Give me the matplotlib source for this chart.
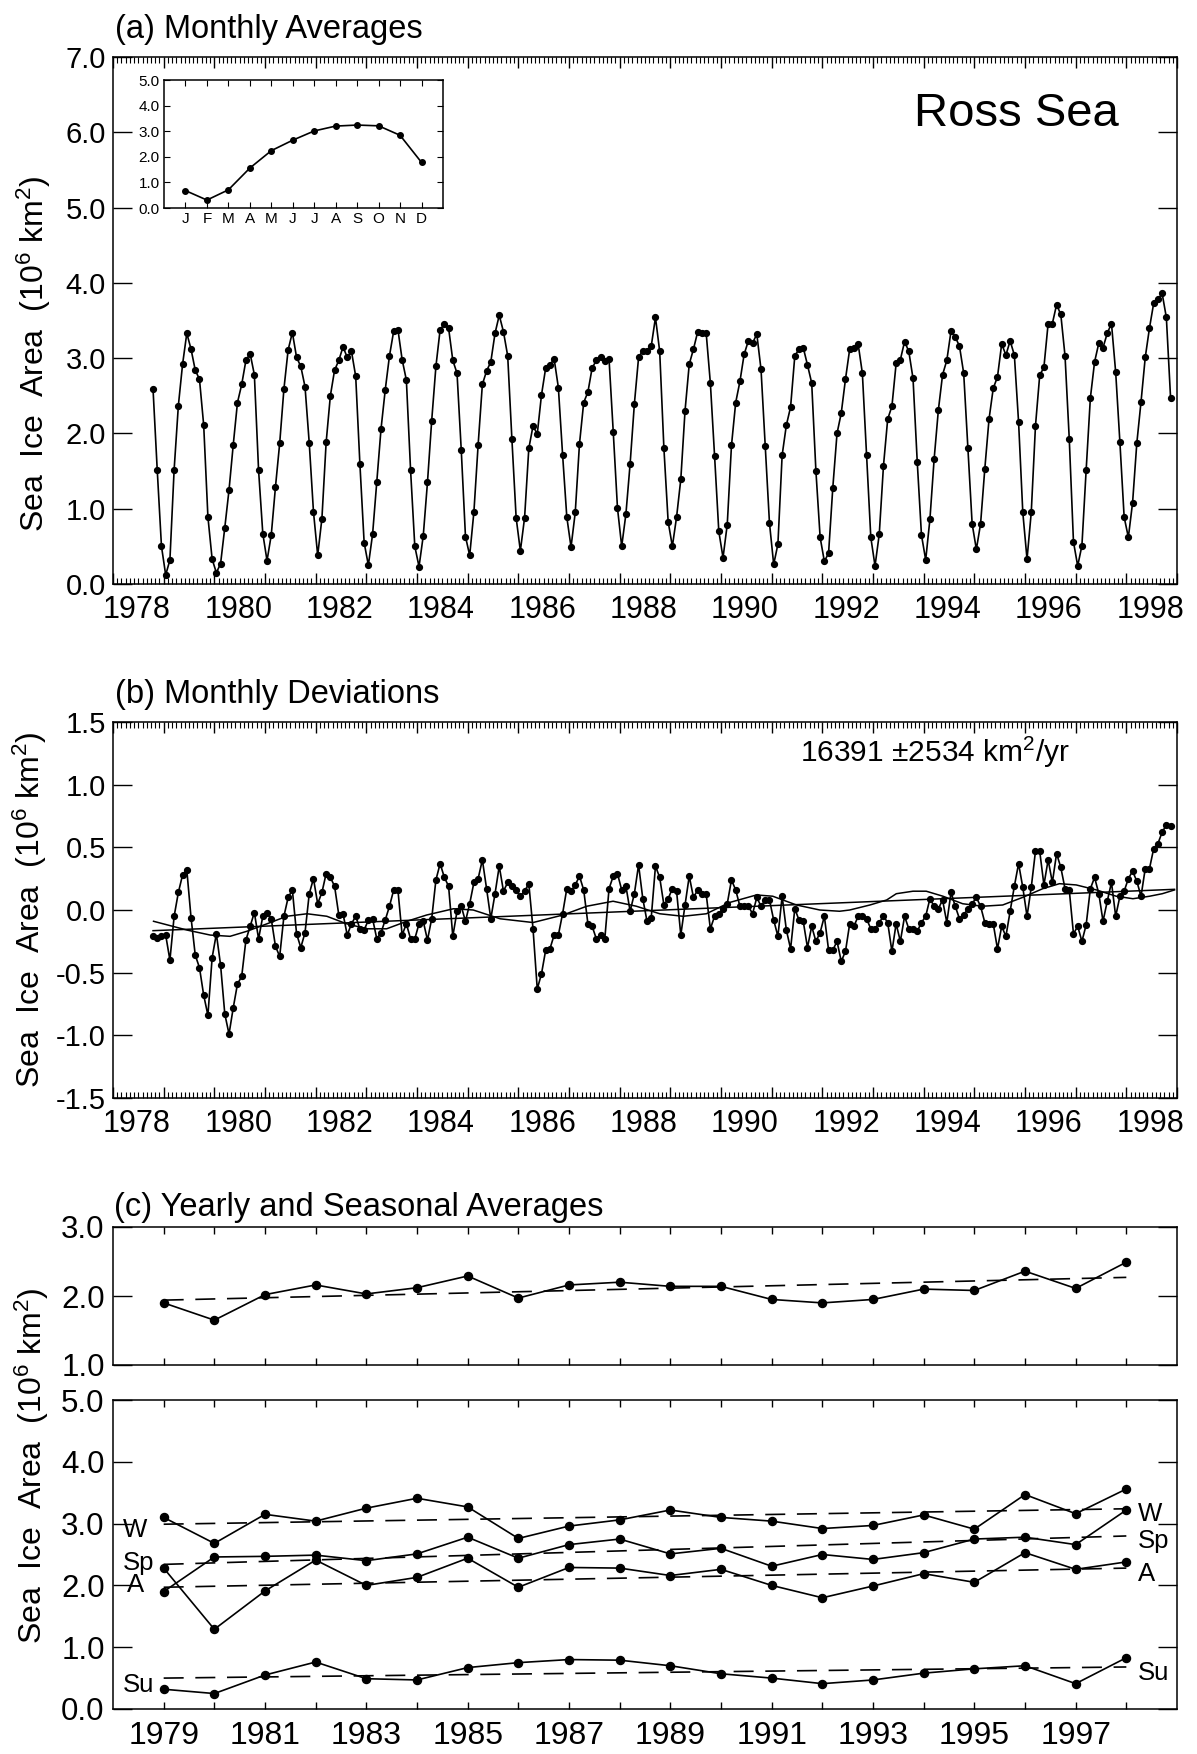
"""Ross Sea sea ice: monthly averages, deviations, yearly/seasonal averages."""

import numpy as np
import matplotlib
matplotlib.use("Agg")
import matplotlib.pyplot as plt
from matplotlib.ticker import MultipleLocator

plt.rcParams.update({
    "font.family": ["Liberation Sans", "DejaVu Sans"],
    "font.size": 21,
    "mathtext.fontset": "custom",
    "mathtext.rm": "Liberation Sans",
    "mathtext.it": "Liberation Sans:italic",
    "axes.linewidth": 1.1,
    "axes.unicode_minus": False,
    "xtick.direction": "in",
    "ytick.direction": "in",
})

# ---- (a) monthly averages, Nov 1978 - Dec 1998 (10^6 km^2)
area = [2.59, 1.51,
        0.50, 0.12, 0.32, 1.52, 2.37, 2.92, 3.33, 3.12, 2.84, 2.72, 2.11, 0.89,
        0.33, 0.15, 0.27, 0.75, 1.25, 1.85, 2.41, 2.65, 2.97, 3.06, 2.78, 1.51,
        0.67, 0.31, 0.65, 1.29, 1.87, 2.59, 3.11, 3.34, 3.01, 2.89, 2.62, 1.87,
        0.96, 0.38, 0.87, 1.88, 2.50, 2.84, 2.97, 3.15, 3.01, 3.09, 2.76, 1.59,
        0.55, 0.25, 0.66, 1.36, 2.06, 2.58, 3.03, 3.36, 3.38, 2.98, 2.71, 1.51,
        0.50, 0.23, 0.64, 1.35, 2.17, 2.89, 3.38, 3.45, 3.40, 2.97, 2.80, 1.78,
        0.63, 0.38, 0.96, 1.85, 2.65, 2.83, 2.95, 3.33, 3.57, 3.35, 3.03, 1.92,
        0.88, 0.44, 0.88, 1.80, 2.10, 1.99, 2.51, 2.87, 2.91, 2.99, 2.61, 1.72,
        0.89, 0.49, 0.95, 1.86, 2.41, 2.55, 2.87, 2.97, 3.02, 2.96, 2.99, 2.02,
        1.01, 0.50, 0.93, 1.60, 2.39, 3.01, 3.10, 3.10, 3.16, 3.54, 3.09, 1.80,
        0.83, 0.50, 0.89, 1.39, 2.30, 2.92, 3.12, 3.35, 3.34, 3.34, 2.67, 1.70,
        0.70, 0.35, 0.79, 1.84, 2.41, 2.69, 3.05, 3.23, 3.20, 3.32, 2.85, 1.83,
        0.81, 0.26, 0.53, 1.71, 2.11, 2.35, 3.03, 3.12, 3.14, 2.91, 2.67, 1.50,
        0.62, 0.30, 0.41, 1.28, 2.00, 2.27, 2.72, 3.12, 3.13, 3.19, 2.80, 1.72,
        0.62, 0.24, 0.66, 1.57, 2.19, 2.36, 2.93, 2.98, 3.22, 3.09, 2.73, 1.62,
        0.65, 0.32, 0.86, 1.66, 2.31, 2.78, 2.97, 3.36, 3.28, 3.16, 2.80, 1.80,
        0.80, 0.46, 0.80, 1.53, 2.19, 2.60, 2.75, 3.19, 3.04, 3.23, 3.04, 2.15,
        0.95, 0.33, 0.95, 2.10, 2.77, 2.88, 3.46, 3.46, 3.71, 3.58, 3.03, 1.93,
        0.56, 0.24, 0.51, 1.51, 2.47, 2.95, 3.20, 3.14, 3.33, 3.46, 2.81, 1.88,
        0.89, 0.62, 1.08, 1.87, 2.42, 3.01, 3.40, 3.73, 3.78, 3.86, 3.54, 2.47]

# inset: average seasonal cycle
month_lbl = ["J", "F", "M", "A", "M", "J", "J", "A", "S", "O", "N", "D"]
clim = [0.68, 0.31, 0.71, 1.56, 2.24, 2.65, 3.01, 3.20, 3.24, 3.21, 2.84, 1.78]

# ---- (b) monthly deviations, Nov 1978 - Dec 1998
dev = [-0.21, -0.22,
       -0.21, -0.20, -0.40, -0.05, 0.14, 0.28, 0.32, -0.06, -0.36, -0.46, -0.68, -0.84,
       -0.38, -0.19, -0.44, -0.83, -0.99, -0.78, -0.59, -0.53, -0.24, -0.13, -0.02, -0.23,
       -0.05, -0.02, -0.07, -0.29, -0.37, -0.05, 0.10, 0.16, -0.19, -0.30, -0.18, 0.13,
       0.25, 0.05, 0.14, 0.29, 0.26, 0.19, -0.04, -0.03, -0.20, -0.11, -0.05, -0.15,
       -0.16, -0.08, -0.07, -0.23, -0.18, -0.08, 0.03, 0.16, 0.16, -0.20, -0.11, -0.23,
       -0.23, -0.11, -0.09, -0.24, -0.07, 0.24, 0.37, 0.26, 0.19, -0.21, -0.01, 0.03,
       -0.09, 0.05, 0.22, 0.25, 0.40, 0.17, -0.07, 0.13, 0.35, 0.15, 0.22, 0.19,
       0.16, 0.11, 0.15, 0.21, -0.15, -0.63, -0.51, -0.32, -0.31, -0.20, -0.20, -0.03,
       0.17, 0.15, 0.20, 0.27, 0.16, -0.11, -0.13, -0.23, -0.20, -0.23, 0.17, 0.27,
       0.29, 0.16, 0.19, -0.01, 0.13, 0.36, 0.09, -0.09, -0.06, 0.35, 0.26, 0.04,
       0.09, 0.17, 0.15, -0.20, 0.04, 0.27, 0.10, 0.16, 0.13, 0.13, -0.15, -0.05,
       -0.03, 0.01, 0.05, 0.24, 0.16, 0.03, 0.03, 0.03, -0.03, 0.10, 0.03, 0.08,
       0.08, -0.08, -0.21, 0.11, -0.16, -0.31, 0.01, -0.08, -0.09, -0.30, -0.13, -0.25,
       -0.18, -0.05, -0.32, -0.32, -0.25, -0.41, -0.33, -0.11, -0.13, -0.05, -0.05, -0.07,
       -0.15, -0.15, -0.10, -0.05, -0.10, -0.33, -0.11, -0.25, -0.05, -0.15, -0.15, -0.17,
       -0.10, -0.05, 0.09, 0.03, 0.01, 0.08, -0.10, 0.14, 0.03, -0.07, -0.04, 0.01,
       0.05, 0.10, 0.03, -0.10, -0.11, -0.11, -0.31, -0.13, -0.21, -0.01, 0.19, 0.37,
       0.18, -0.05, 0.18, 0.47, 0.47, 0.20, 0.40, 0.22, 0.45, 0.34, 0.17, 0.16,
       -0.19, -0.13, -0.25, -0.12, 0.17, 0.26, 0.13, -0.09, 0.07, 0.22, -0.05, 0.11,
       0.15, 0.25, 0.31, 0.23, 0.11, 0.33, 0.33, 0.49, 0.53, 0.62, 0.68, 0.67]

# smoothed curve and linear trend drawn over the deviations
wave_x = [1978.80, 1979.46, 1979.92, 1980.31, 1980.64, 1981.04, 1981.43, 1981.83,
          1982.22, 1982.61, 1983.01, 1983.40, 1983.80, 1984.19, 1984.72, 1985.11,
          1985.64, 1986.29, 1986.88, 1987.35, 1987.87, 1988.33, 1988.79, 1989.25,
          1989.71, 1990.17, 1990.70, 1991.02, 1991.49, 1991.95, 1992.34, 1992.54,
          1992.94, 1993.27, 1993.46, 1993.79, 1994.05, 1994.38, 1994.77, 1995.16,
          1995.56, 1995.95, 1996.35, 1996.68, 1997.01, 1997.41, 1997.80, 1998.13,
          1998.46, 1998.71, 1998.95]
wave_y = [-0.09, -0.16, -0.20, -0.21, -0.17, -0.11, -0.05, -0.03,
          -0.05, -0.11, -0.15, -0.15, -0.09, -0.04, 0.01, 0.00,
          -0.07, -0.10, -0.04, 0.03, 0.07, 0.03, -0.03, -0.05,
          -0.03, 0.06, 0.12, 0.11, 0.04, 0.00, -0.01, 0.00,
          0.04, 0.08, 0.13, 0.15, 0.15, 0.11, 0.05, 0.03,
          0.04, 0.10, 0.17, 0.21, 0.20, 0.16, 0.11, 0.09,
          0.11, 0.13, 0.16]
trend_x = [1978.79, 1998.95]
trend_y = [-0.165, 0.165]
trend_txt = "16391 \u00b12534 km$^2$/yr"

# ---- (c) yearly and seasonal averages
years = list(range(1979, 1999))
yearly = [1.90, 1.65, 2.02, 2.16, 2.03, 2.12, 2.29, 1.97, 2.16, 2.20,
          2.14, 2.14, 1.95, 1.90, 1.95, 2.10, 2.08, 2.36, 2.11, 2.49]
winter = [3.10, 2.68, 3.15, 3.04, 3.25, 3.41, 3.27, 2.76, 2.96, 3.06,
          3.22, 3.10, 3.04, 2.92, 2.97, 3.14, 2.91, 3.47, 3.16, 3.56]
spring = [1.90, 2.46, 2.47, 2.49, 2.40, 2.51, 2.78, 2.44, 2.66, 2.75,
          2.51, 2.60, 2.31, 2.50, 2.42, 2.53, 2.75, 2.78, 2.66, 3.22]
autumn = [2.28, 1.29, 1.91, 2.41, 2.00, 2.13, 2.44, 1.97, 2.29, 2.28,
          2.16, 2.26, 2.00, 1.80, 1.99, 2.19, 2.05, 2.53, 2.26, 2.38]
summer = [0.32, 0.25, 0.55, 0.76, 0.49, 0.47, 0.67, 0.75, 0.80, 0.79,
          0.70, 0.57, 0.50, 0.41, 0.47, 0.58, 0.65, 0.70, 0.41, 0.83]
# trend line end values (1979, 1998)
yearly_tr = [1.94, 2.27]
winter_tr = [2.99, 3.24]
spring_tr = [2.34, 2.80]
autumn_tr = [1.97, 2.28]
summer_tr = [0.50, 0.68]

W, H = 1197, 1754
fig = plt.figure(figsize=(W / 100, H / 100), dpi=100)


def box(l, r, t, b):
    return [l / W, 1 - b / H, (r - l) / W, (b - t) / H]


months = 1978.79 + np.arange(len(area)) / 12
ylab = "Sea  Ice  Area  (10$^6$ km$^2$)"
even = list(range(1978, 1999, 2))


def monthly_axis(ax):
    ax.set_xlim(1978, 1999)
    ax.set_xticks(range(1978, 2000))
    ax.xaxis.set_minor_locator(MultipleLocator(1 / 12))
    ax.tick_params(axis="x", which="major", length=8, width=1.0, top=True,
                   labelbottom=False)
    ax.tick_params(axis="x", which="minor", length=4, width=0.8, top=True)
    ax.tick_params(axis="y", length=14, width=1.0, right=True, pad=5)
    sec = ax.secondary_xaxis("bottom")
    sec.set_xticks([y + 0.47 for y in even], labels=[str(y) for y in even])
    sec.tick_params(length=0, pad=8, labelsize=22)
    sec.spines["bottom"].set_visible(False)


# (a)
ax = fig.add_axes(box(113, 1177, 57, 584))
ax.plot(months, area, "-", color="k", lw=1.2, marker="o", ms=4.2)
ax.set_ylim(0, 7)
ax.set_yticks(range(8), labels=[f"{v:.1f}" for v in range(8)])
monthly_axis(ax)
ax.text(0.849, 0.892, "Ross Sea", transform=ax.transAxes, fontsize=34,
        ha="center", va="center")
fig.text(115 / W, 1 - 38 / H, "(a) Monthly Averages", fontsize=23.5,
         ha="left", va="baseline")
fig.text(34 / W, 1 - 354 / H, ylab, rotation=90, ha="center", va="center",
         fontsize=23)

ins = fig.add_axes(box(164, 443, 80, 208))
ins.plot(range(1, 13), clim, "-", color="k", lw=1.2, marker="o", ms=4.0)
ins.set_xlim(0, 13)
ins.set_ylim(0, 5)
ins.set_xticks(range(1, 13), labels=month_lbl)
ins.set_yticks(range(6), labels=[f"{v:.1f}" for v in range(6)])
ins.tick_params(labelsize=11, length=4, width=0.8, top=True, right=True, pad=3)

# (b)
ax = fig.add_axes(box(113, 1177, 722, 1098))
ax.plot(months, dev, "-", color="k", lw=1.2, marker="o", ms=4.2)
ax.plot(wave_x, wave_y, "-", color="k", lw=1.1)
ax.plot(trend_x, trend_y, "-", color="k", lw=1.1)
ax.set_ylim(-1.5, 1.5)
yt = [-1.5, -1.0, -0.5, 0.0, 0.5, 1.0, 1.5]
ax.set_yticks(yt, labels=[f"{v:.1f}" for v in yt])
monthly_axis(ax)
ax.text(0.646, 0.918, trend_txt, transform=ax.transAxes, fontsize=21.5,
        ha="left", va="center")
fig.text(115 / W, 1 - 703 / H, "(b) Monthly Deviations", fontsize=23.5,
         ha="left", va="baseline")
fig.text(30 / W, 1 - 910 / H, ylab, rotation=90, ha="center", va="center",
         fontsize=23)


def yearly_axis(ax, labels):
    ax.set_xlim(1978, 1999)
    ax.set_xticks(years)
    if labels:
        ax.set_xticklabels([str(y) if y % 2 else "" for y in years])
    else:
        ax.tick_params(axis="x", labelbottom=False)
    ax.tick_params(axis="x", length=5, width=1.0, top=True, pad=9,
                   labelsize=23)
    ax.tick_params(axis="y", length=14, width=1.0, right=True, pad=6,
                   labelsize=22.5)


dash = dict(color="k", lw=1.2, dashes=(12, 7))
dot = dict(color="k", lw=1.2, marker="o", ms=5.8)

# (c) top: yearly averages
ax = fig.add_axes(box(113, 1177, 1227, 1365))
ax.plot(years, yearly, "-", **dot)
ax.plot([1979, 1998], yearly_tr, **dash)
ax.set_ylim(1, 3)
ax.set_yticks([1, 2, 3], labels=["1.0", "2.0", "3.0"])
yearly_axis(ax, False)
fig.text(114 / W, 1 - 1216 / H, "(c) Yearly and Seasonal Averages",
         fontsize=23.5, ha="left", va="baseline")

# (c) bottom: seasonal averages
ax = fig.add_axes(box(113, 1177, 1400, 1709))
for vals, tr in ((winter, winter_tr), (spring, spring_tr),
                 (autumn, autumn_tr), (summer, summer_tr)):
    ax.plot(years, vals, "-", **dot)
    ax.plot([1979, 1998], tr, **dash)
ax.set_ylim(0, 5)
ax.set_yticks(range(6), labels=[f"{v:.1f}" for v in range(6)])
yearly_axis(ax, True)
for x, y, s in ((1978.2, 2.90, "W"), (1978.2, 2.37, "Sp"),
                (1978.27, 2.01, "A"), (1978.2, 0.39, "Su"),
                (1998.22, 3.16, "W"), (1998.22, 2.72, "Sp"),
                (1998.22, 2.18, "A"), (1998.22, 0.58, "Su")):
    ax.text(x, y, s, fontsize=18.5, ha="left", va="center")
fig.text(32 / W, 1 - 1466 / H, ylab, rotation=90, ha="center", va="center",
         fontsize=23)

fig.savefig("out.png", dpi=100, facecolor="white")
